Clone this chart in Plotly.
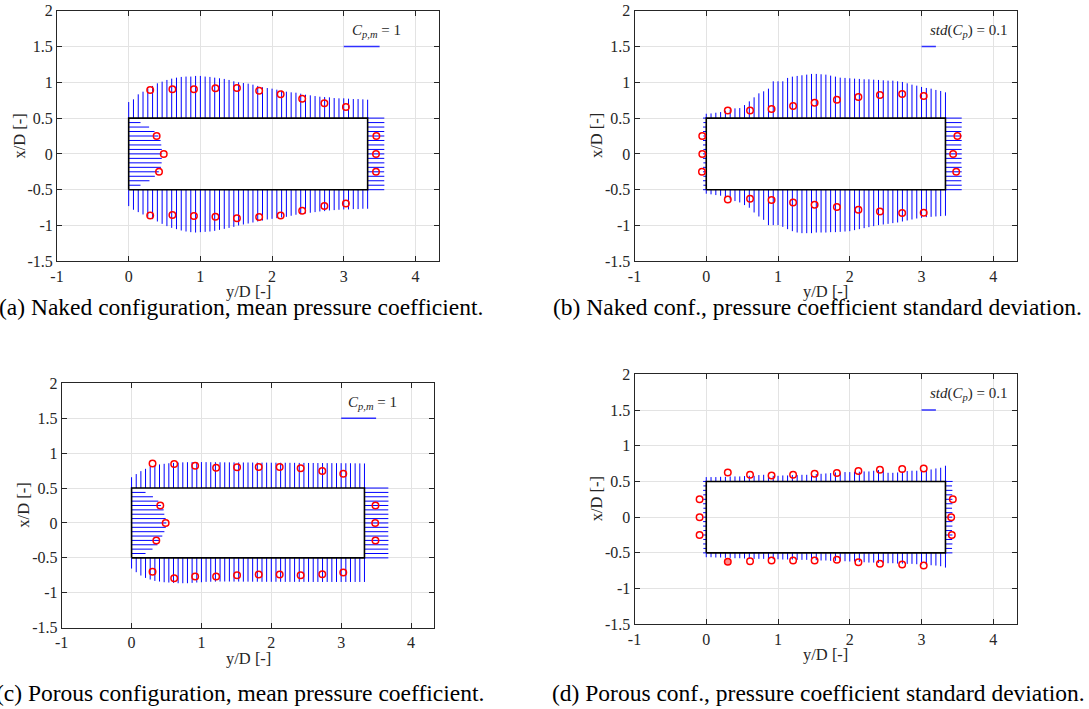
import numpy as np
import plotly.graph_objects as go

# ---------------- data ----------------
L_BODY = 10 / 3
stations_x = np.linspace(0, L_BODY, 51)      # positions of the pressure lines on top / bottom faces
stations_y = np.linspace(-0.5, 0.5, 17)      # positions on front / rear faces
marker_x = [0.30, 0.61, 0.91, 1.21, 1.51, 1.82, 2.12, 2.42, 2.73, 3.03]
marker_side_y = [-0.25, 0.0, 0.25]

x_tickvals = [-1, 0, 1, 2, 3, 4]
x_ticktext = ["-1", "0", "1", "2", "3", "4"]
y_tickvals = [-1.5, -1, -0.5, 0, 0.5, 1, 1.5, 2]
y_ticktext = ["-1.5", "-1", "-0.5", "0", "0.5", "1", "1.5", "2"]

# (a) naked, mean Cp
a_top = [0.724, 0.762, 0.832, 0.869, 0.911, 0.949, 0.986, 1.009, 1.033, 1.051,
         1.065, 1.075, 1.080, 1.080, 1.089, 1.089, 1.080, 1.075, 1.065, 1.056,
         1.047, 1.033, 1.014, 1.000, 0.990, 0.981, 0.967, 0.949, 0.930, 0.920,
         0.911, 0.897, 0.883, 0.869, 0.860, 0.855, 0.841, 0.827, 0.818, 0.808,
         0.799, 0.794, 0.790, 0.780, 0.776, 0.776, 0.771, 0.766, 0.766, 0.762, 0.757]
a_bottom = [-0.729, -0.780, -0.813, -0.846, -0.879, -0.911, -0.944, -0.977, -1.009, -1.033,
            -1.051, -1.070, -1.084, -1.093, -1.098, -1.093, -1.089, -1.084, -1.075, -1.061,
            -1.047, -1.033, -1.019, -1.000, -0.986, -0.972, -0.958, -0.944, -0.930, -0.916,
            -0.907, -0.897, -0.888, -0.879, -0.864, -0.850, -0.841, -0.832, -0.822, -0.813,
            -0.804, -0.799, -0.790, -0.785, -0.780, -0.776, -0.776, -0.771, -0.771, -0.766, -0.766]
a_left = [0.0, 0.165, 0.29, 0.365, 0.42, 0.45, 0.46, 0.462, 0.465, 0.462, 0.455, 0.445,
          0.415, 0.36, 0.285, 0.165, 0.0]
a_right = [3.565, 3.567, 3.565, 3.566, 3.564, 3.566, 3.567, 3.565, 3.566, 3.566, 3.565,
           3.567, 3.566, 3.565, 3.566, 3.567, 3.566]
a_mk_top = [0.893, 0.902, 0.902, 0.916, 0.921, 0.883, 0.832, 0.771, 0.706, 0.654]
a_mk_bottom = [-0.860, -0.855, -0.869, -0.879, -0.897, -0.883, -0.860, -0.794, -0.729, -0.692]
a_mk_left = [0.423, 0.489, 0.390]
a_mk_right = [3.450, 3.450, 3.455]

# (b) naked, std Cp
b_top = [0.561, 0.565, 0.575, 0.584, 0.603, 0.621, 0.636, 0.640, 0.682, 0.734,
         0.790, 0.846, 0.874, 0.911, 1.014, 1.014, 1.014, 1.061, 1.079, 1.089,
         1.098, 1.107, 1.117, 1.117, 1.112, 1.107, 1.093, 1.079, 1.065, 1.061,
         1.056, 1.051, 1.047, 1.042, 1.042, 1.037, 1.033, 1.028, 1.023, 1.023,
         1.014, 1.005, 0.986, 0.967, 0.953, 0.935, 0.921, 0.911, 0.893, 0.879, 0.860]
b_bottom = [-0.556, -0.565, -0.575, -0.584, -0.612, -0.640, -0.659, -0.678, -0.715, -0.752,
            -0.818, -0.874, -0.921, -0.995, -0.995, -0.995, -1.019, -1.051, -1.079, -1.098,
            -1.107, -1.107, -1.107, -1.098, -1.098, -1.098, -1.093, -1.093, -1.089, -1.084,
            -1.079, -1.065, -1.051, -1.037, -1.023, -1.009, -0.995, -0.986, -0.977, -0.967,
            -0.958, -0.944, -0.930, -0.916, -0.902, -0.893, -0.883, -0.879, -0.874, -0.869, -0.864]
b_left = [-0.045, -0.040, -0.045, -0.040, -0.045, -0.045, -0.040, -0.045, -0.045, -0.040,
          -0.045, -0.045, -0.040, -0.045, -0.045, -0.040, -0.045]
b_right = [3.560, 3.560, 3.555, 3.560, 3.560, 3.560, 3.555, 3.560, 3.560, 3.560, 3.555,
           3.560, 3.560, 3.555, 3.560, 3.560, 3.560]
b_mk_top = [0.607, 0.607, 0.626, 0.668, 0.715, 0.757, 0.794, 0.822, 0.836, 0.808]
b_mk_bottom = [-0.636, -0.626, -0.645, -0.678, -0.710, -0.743, -0.780, -0.804, -0.827, -0.822]
b_mk_left = [-0.060, -0.055, -0.056]
b_mk_right = [3.483, 3.440, 3.500]

# (c) porous, mean Cp
c_top = [0.655, 0.700, 0.742, 0.775, 0.805, 0.825, 0.838, 0.847, 0.855, 0.860,
         0.865, 0.868, 0.870, 0.871, 0.872, 0.872, 0.871, 0.870, 0.870, 0.869,
         0.868, 0.868, 0.867, 0.866, 0.866, 0.866, 0.865, 0.865, 0.864, 0.864,
         0.863, 0.863, 0.862, 0.862, 0.861, 0.861, 0.860, 0.860, 0.859, 0.859,
         0.858, 0.858, 0.857, 0.857, 0.856, 0.856, 0.855, 0.855, 0.854, 0.853, 0.852]
c_bottom = [-0.653, -0.705, -0.753, -0.787, -0.810, -0.830, -0.839, -0.849, -0.853, -0.858,
            -0.863, -0.863, -0.863, -0.858, -0.853, -0.849, -0.844, -0.842, -0.840, -0.839,
            -0.839, -0.839, -0.840, -0.840, -0.841, -0.841, -0.842, -0.842, -0.843, -0.843,
            -0.843, -0.843, -0.843, -0.844, -0.844, -0.844, -0.844, -0.844, -0.844, -0.845,
            -0.845, -0.845, -0.845, -0.845, -0.845, -0.845, -0.845, -0.845, -0.845, -0.845, -0.845]
c_left = [0.0, 0.20, 0.30, 0.37, 0.40, 0.44, 0.47, 0.49, 0.497, 0.488, 0.469, 0.459,
          0.42, 0.383, 0.306, 0.20, 0.0]
c_right = [3.675, 3.676, 3.674, 3.675, 3.677, 3.675, 3.674, 3.676, 3.675, 3.675, 3.676,
           3.674, 3.675, 3.677, 3.675, 3.676, 3.675]
c_mk_top = [0.853, 0.844, 0.820, 0.791, 0.796, 0.800, 0.800, 0.782, 0.744, 0.705]
c_mk_bottom = [-0.700, -0.791, -0.767, -0.767, -0.748, -0.739, -0.739, -0.748, -0.734, -0.710]
c_mk_left = [0.354, 0.488, 0.411]
c_mk_right = [3.491, 3.487, 3.491]

# (d) porous, std Cp
d_top = [0.561, 0.561, 0.561, 0.565, 0.565, 0.570, 0.570, 0.570, 0.575, 0.579,
         0.579, 0.589, 0.593, 0.584, 0.579, 0.579, 0.584, 0.584, 0.589, 0.589,
         0.593, 0.593, 0.598, 0.603, 0.607, 0.612, 0.617, 0.626, 0.626, 0.631,
         0.631, 0.636, 0.636, 0.640, 0.640, 0.650, 0.659, 0.664, 0.621, 0.621,
         0.626, 0.636, 0.645, 0.650, 0.650, 0.654, 0.659, 0.668, 0.682, 0.692, 0.720]
d_bottom = [-0.561, -0.561, -0.565, -0.565, -0.570, -0.570, -0.575, -0.575, -0.579, -0.579,
            -0.584, -0.584, -0.584, -0.589, -0.589, -0.589, -0.593, -0.593, -0.593, -0.598,
            -0.598, -0.598, -0.603, -0.603, -0.607, -0.607, -0.612, -0.612, -0.617, -0.617,
            -0.621, -0.621, -0.626, -0.631, -0.636, -0.636, -0.640, -0.640, -0.645, -0.645,
            -0.650, -0.650, -0.654, -0.654, -0.659, -0.664, -0.668, -0.673, -0.678, -0.687, -0.706]
d_left = [-0.044, -0.040, -0.044, -0.042, -0.044, -0.040, -0.044, -0.044, -0.042, -0.044,
          -0.040, -0.044, -0.044, -0.042, -0.044, -0.040, -0.044]
d_right = [3.430, 3.425, 3.430, 3.428, 3.430, 3.425, 3.430, 3.430, 3.428, 3.430, 3.425,
           3.430, 3.430, 3.428, 3.430, 3.425, 3.433]
d_mk_top = [0.626, 0.593, 0.584, 0.593, 0.607, 0.617, 0.645, 0.664, 0.673, 0.682]
d_mk_bottom = [-0.626, -0.617, -0.607, -0.607, -0.607, -0.598, -0.631, -0.654, -0.664, -0.678]
d_mk_left = [-0.093, -0.093, -0.093]
d_mk_right = [3.422, 3.413, 3.436]

captions = ["(a) Naked configuration, mean pressure coefficient.",
            "(b) Naked conf., pressure coefficient standard deviation.",
            "(c) Porous configuration, mean pressure coefficient.",
            "(d) Porous conf., pressure coefficient standard deviation."]
scale_labels = ["<i>C</i><sub><i>p,m</i></sub> = 1",
                "<i>std</i>(<i>C</i><sub><i>p</i></sub>) = 0.1",
                "<i>C</i><sub><i>p,m</i></sub> = 1",
                "<i>std</i>(<i>C</i><sub><i>p</i></sub>) = 0.1"]
scale_bar_x = [[3.0, 3.5], [3.0, 3.2], [3.0, 3.5], [3.0, 3.2]]
scale_bar_y = 1.5

panels = [
    dict(top=a_top, bottom=a_bottom, left=a_left, right=a_right, mt=a_mk_top, mb=a_mk_bottom,
         ml=a_mk_left, mr=a_mk_right),
    dict(top=b_top, bottom=b_bottom, left=b_left, right=b_right, mt=b_mk_top, mb=b_mk_bottom,
         ml=b_mk_left, mr=b_mk_right),
    dict(top=c_top, bottom=c_bottom, left=c_left, right=c_right, mt=c_mk_top, mb=c_mk_bottom,
         ml=c_mk_left, mr=c_mk_right),
    dict(top=d_top, bottom=d_bottom, left=d_left, right=d_right, mt=d_mk_top, mb=d_mk_bottom,
         ml=d_mk_left, mr=d_mk_right),
]

# ---------------- layout geometry (pixels) ----------------
W, H = 1089, 709
axes_px = [  # x0, x1, y0(top), y1(bottom)
    (57.0, 439.3, 10.7, 261.3),
    (634.5, 1017.2, 10.7, 261.3),
    (61.7, 434.3, 383.3, 627.7),
    (634.5, 1017.2, 374.3, 624.3),
]
caption_px = [(240.5, 307), (817, 307), (240, 693), (818, 693)]

SERIF = "Liberation Serif, Times New Roman, serif"
BLUE = "#0000ff"
RED = "#ff0000"

fig = go.Figure()


def vsegs(xs, base, ends):
    X, Y = [], []
    for x, e in zip(xs, ends):
        X += [x, x, None]
        Y += [base, e, None]
    return X, Y


def hsegs(ys, base, ends):
    X, Y = [], []
    for y, e in zip(ys, ends):
        X += [base, e, None]
        Y += [y, y, None]
    return X, Y


for i, p in enumerate(panels):
    xa = "x" if i == 0 else f"x{i + 1}"
    ya = "y" if i == 0 else f"y{i + 1}"
    line_style = dict(color=BLUE, width=1)
    for X, Y in (vsegs(stations_x, 0.5, p["top"]),
                 vsegs(stations_x, -0.5, p["bottom"]),
                 hsegs(stations_y, 0.0, p["left"]),
                 hsegs(stations_y, L_BODY, p["right"])):
        fig.add_trace(go.Scatter(x=X, y=Y, mode="lines", line=line_style,
                                 xaxis=xa, yaxis=ya, showlegend=False, hoverinfo="skip"))
    # body outline
    fig.add_trace(go.Scatter(x=[0, L_BODY, L_BODY, 0, 0], y=[-0.5, -0.5, 0.5, 0.5, -0.5],
                             mode="lines", line=dict(color="black", width=1.6),
                             xaxis=xa, yaxis=ya, showlegend=False, hoverinfo="skip"))
    # scale bar
    fig.add_trace(go.Scatter(x=scale_bar_x[i], y=[scale_bar_y, scale_bar_y], mode="lines",
                             line=dict(color="#3030ff", width=1.6),
                             xaxis=xa, yaxis=ya, showlegend=False, hoverinfo="skip"))
    # pressure taps
    mx = list(marker_x) + list(marker_x) + list(p["ml"]) + list(p["mr"])
    my = list(p["mt"]) + list(p["mb"]) + list(marker_side_y) + list(marker_side_y)
    fills = ["rgba(0,0,0,0)"] * len(mx)
    if i == 3:
        fills[10] = "rgba(255,0,0,0.45)"
    fig.add_trace(go.Scatter(x=mx, y=my, mode="markers",
                             marker=dict(symbol="circle", size=6.5, color=fills,
                                         line=dict(color=RED, width=1.5)),
                             xaxis=xa, yaxis=ya, showlegend=False, hoverinfo="skip"))

axis_common = dict(showgrid=True, gridcolor="#e3e3e3", gridwidth=1, zeroline=False,
                   showline=True, linecolor="#262626", linewidth=1, mirror="ticks",
                   ticks="inside", ticklen=5, tickcolor="#262626", automargin=False,
                   tickfont=dict(family=SERIF, size=16, color="#262626"))

layout = dict(width=W, height=H, margin=dict(l=0, r=0, t=0, b=0, autoexpand=False),
              autosize=False, paper_bgcolor="white", plot_bgcolor="white", showlegend=False)
annotations = []
for i, (x0, x1, y0, y1) in enumerate(axes_px):
    sfx = "" if i == 0 else str(i + 1)
    layout["xaxis" + sfx] = dict(axis_common, domain=[x0 / W, x1 / W], range=[-1, 4.333],
                                 tickvals=x_tickvals, ticktext=x_ticktext,
                                 anchor="y" + sfx)
    layout["yaxis" + sfx] = dict(axis_common, domain=[1 - y1 / H, 1 - y0 / H], range=[-1.5, 2],
                                 tickvals=y_tickvals, ticktext=y_ticktext,
                                 anchor="x" + sfx)
    # axis titles
    annotations.append(dict(text="y/D [-]", xref="paper", yref="paper",
                            x=(x0 + x1) / 2 / W, y=1 - (y1 + 30.5) / H,
                            showarrow=False, xanchor="center", yanchor="middle",
                            font=dict(family=SERIF, size=16.5, color="#262626")))
    annotations.append(dict(text="x/D [-]", xref="paper", yref="paper",
                            x=(x0 - 38.5) / W, y=1 - (y0 + y1) / 2 / H, textangle=-90,
                            showarrow=False, xanchor="center", yanchor="middle",
                            font=dict(family=SERIF, size=16.5, color="#262626")))
    # scale-bar label
    annotations.append(dict(text=scale_labels[i], xref="x" + sfx, yref="y" + sfx,
                            x=(3.45 if i % 2 == 0 else 3.655), y=1.72,
                            showarrow=False, xanchor="center", yanchor="middle",
                            font=dict(family=SERIF, size=15, color="#262626")))
    # caption
    cx, cy = caption_px[i]
    annotations.append(dict(text=captions[i], xref="paper", yref="paper",
                            x=cx / W, y=1 - cy / H, showarrow=False,
                            xanchor="center", yanchor="middle",
                            font=dict(family=SERIF, size=23.5, color="black")))

layout["annotations"] = annotations
fig.update_layout(**layout)
fig.write_html("out.html")
